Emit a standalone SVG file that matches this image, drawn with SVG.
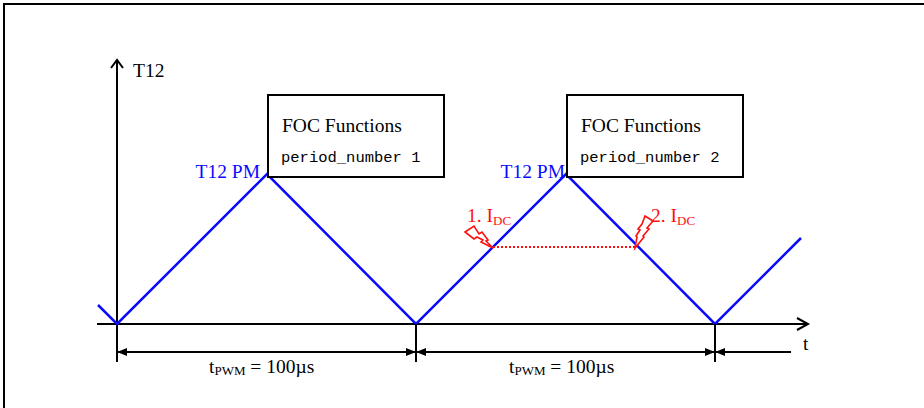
<svg xmlns="http://www.w3.org/2000/svg" width="924" height="408" viewBox="0 0 924 408">
<defs>
<style>
.ax{stroke:#000;stroke-width:2;fill:none}
.box{fill:#fff;stroke:#000;stroke-width:2}
.wave{stroke:#0a0aff;stroke-width:2.5;fill:none;stroke-linejoin:miter}
.serif{font-family:"Liberation Serif","Times New Roman",serif;font-size:19.5px}
.mono{font-family:"Liberation Mono","Courier New",monospace;font-size:15.5px}
.blue{fill:#0a0aff}
.red{fill:#ff1010}
.bolt{fill:#fff;stroke:#ff1010;stroke-width:1.6;stroke-linejoin:miter}
.sub{font-size:13px}
</style>
<marker id="ah" markerWidth="10" markerHeight="8" refX="10" refY="4" orient="auto" markerUnits="userSpaceOnUse">
<path d="M0,0 L10,4 L0,8 Z" fill="#000"/>
</marker>
</defs>
<rect width="924" height="408" fill="#fff"/>
<g id="frame">
<path class="ax" d="M4,408 V4 H924"/>
</g>
<g id="axes">
<path class="ax" d="M117,362 V60 M111,68 L117,60 L123,68"/>
<path class="ax" d="M97,324 H808 M797,318 L808,324 L797,330"/>
<text class="serif" x="133" y="77">T12</text>
<text class="serif" x="803" y="350">t</text>
</g>
<g id="connectors">
<polyline class="wave" points="98,305 117,324 267,174 416,324 566,174 715,324 801,238"/>
<path class="ax" d="M416,324 V362 M715,324 V362"/>
<line class="ax" x1="404" y1="352" x2="117" y2="352" marker-end="url(#ah)"/>
<line class="ax" x1="129" y1="352" x2="416" y2="352" marker-end="url(#ah)"/>
<line class="ax" x1="703" y1="352" x2="416" y2="352" marker-end="url(#ah)"/>
<line class="ax" x1="428" y1="352" x2="715" y2="352" marker-end="url(#ah)"/>
<line class="ax" x1="791" y1="352" x2="715" y2="352" marker-end="url(#ah)"/>
<line x1="493" y1="247" x2="636" y2="247" stroke="#ff1010" stroke-width="2" stroke-dasharray="2,2"/>
</g>
<g id="box1">
<rect class="box" x="268" y="95" width="176" height="82"/>
<text class="serif" x="282" y="132">FOC Functions</text>
<text class="mono" x="281" y="162">period_number 1</text>
</g>
<g id="box2">
<rect class="box" x="567" y="95" width="176" height="82"/>
<text class="serif" x="581" y="132">FOC Functions</text>
<text class="mono" x="580" y="162">period_number 2</text>
</g>
<g id="peak1">
<text class="serif blue" x="260" y="178" text-anchor="end">T12 PM</text>
</g>
<g id="peak2">
<text class="serif blue" x="565" y="178" text-anchor="end">T12 PM</text>
</g>
<g id="idc1">
<polygon class="bolt" points="465,232 474,226 479,234 482,232 488,240 486,241 493,248 481,242 483,240 477,237 474,239"/>
<text class="serif red" x="467" y="222">1. I<tspan class="sub" dy="3">DC</tspan></text>
</g>
<g id="idc2">
<polygon class="bolt" points="645,216 653,221 647,228 649,229 643,236 644,237 635,248 637,237 636,236 640,230 638,229 642,224"/>
<text class="serif red" x="651" y="222">2. I<tspan class="sub" dy="3">DC</tspan></text>
</g>
<g id="dim-labels">
<text class="serif" x="209" y="373">t<tspan class="sub" dy="2">PWM</tspan><tspan dy="-2"> = 100µs</tspan></text>
<text class="serif" x="509" y="373">t<tspan class="sub" dy="2">PWM</tspan><tspan dy="-2"> = 100µs</tspan></text>
</g>
</svg>
